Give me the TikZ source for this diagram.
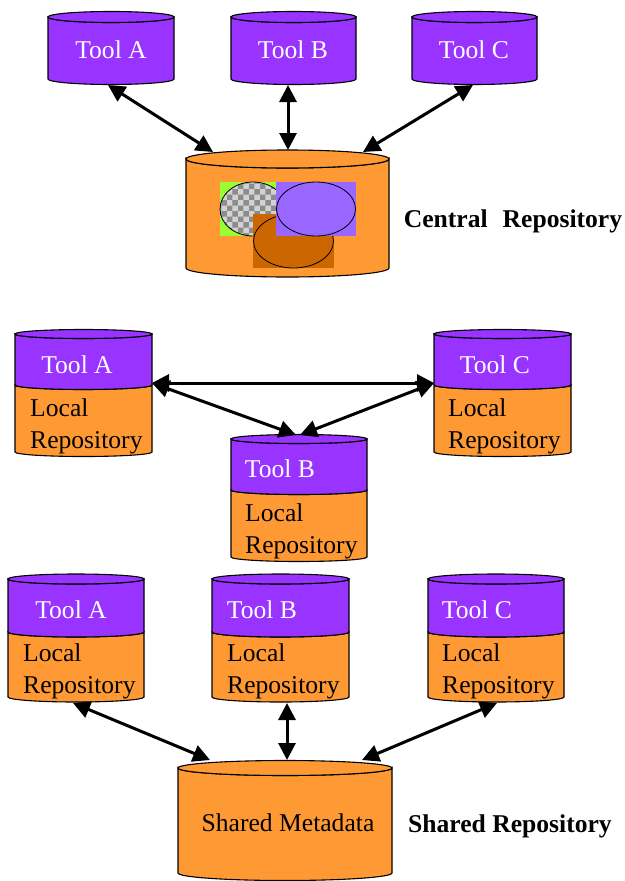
\documentclass[tikz,border=0pt]{standalone}
\usepackage{fontspec}
\setmainfont{Liberation Serif}
\usetikzlibrary{arrows.meta}
\usetikzlibrary{patterns}

\definecolor{toolpurple}{RGB}{153,51,255}
\definecolor{repoorange}{RGB}{255,153,51}
\definecolor{lilac}{RGB}{153,102,255}
\definecolor{rust}{RGB}{204,102,0}
\definecolor{lime}{RGB}{153,255,51}

\tikzset{
  tool/.style={fill=toolpurple,draw=black,line width=1.1pt},
  repo/.style={fill=repoorange,draw=black,line width=1.1pt},
  link/.style={{Triangle[length=17pt,width=17pt]}-{Triangle[length=17pt,width=17pt]},line width=3pt},
  tooltext/.style={text=white},
  localtext/.style={anchor=west,align=left,inner xsep=0pt},
  title/.style={font=\fontsize{25.6}{32}\selectfont\bfseries},
}

% plain cylinder: x left, x right, y top, y bottom, y radius, style
\newcommand{\cylshape}[6]{%
  \pgfmathsetmacro{\rx}{(#2-#1)/2}
  \filldraw[#6] (#1,#3) -- (#1,#4) arc[start angle=180,end angle=360,x radius=\rx,y radius=#5]
    -- (#2,#3) arc[start angle=0,end angle=-180,x radius=\rx,y radius=#5] -- cycle;
  \filldraw[#6] ({(#1+#2)/2},#3) ellipse[x radius=\rx,y radius=#5];
}
% tool on top of a local repository: x left, x right, y top, y split, y bottom, y radius
\newcommand{\toolcyl}[6]{%
  \pgfmathsetmacro{\rx}{(#2-#1)/2}
  \filldraw[repo] (#1,#4) -- (#1,#5) arc[start angle=180,end angle=360,x radius=\rx,y radius=#6]
    -- (#2,#4) arc[start angle=0,end angle=-180,x radius=\rx,y radius=#6] -- cycle;
  \filldraw[tool] (#1,#3) -- (#1,#4) arc[start angle=180,end angle=360,x radius=\rx,y radius=#6]
    -- (#2,#3) arc[start angle=0,end angle=-180,x radius=\rx,y radius=#6] -- cycle;
  \filldraw[tool] ({(#1+#2)/2},#3) ellipse[x radius=\rx,y radius=#6];
}

\begin{document}
\begin{tikzpicture}[x=1pt,y=1pt,font=\fontsize{25.6}{32}\selectfont]
\useasboundingbox (0,0) rectangle (624,-881);

% central repository
\cylshape{48}{174}{-17}{-79}{5.5}{tool}
\cylshape{231}{356}{-17}{-79}{5.5}{tool}
\cylshape{412}{537}{-17}{-79}{5.5}{tool}
\cylshape{186}{389}{-159}{-268}{9}{repo}

\node[tooltext] (toolA1) at (111,-50) {Tool A};
\node[tooltext] (toolB1) at (293,-50) {Tool B};
\node[tooltext] (toolC1) at (474,-50) {Tool C};

\fill[lime] (220,-182) rectangle (277,-236);
\fill[gray!35] (253,-209) ellipse[x radius=33,y radius=27];
\fill[pattern=checkerboard,pattern color=gray!90] (253,-209) ellipse[x radius=33,y radius=27];
\draw[line width=0.8pt] (253,-209) ellipse[x radius=33,y radius=27];
\fill[rust] (253,-214) rectangle (334,-268);
\draw[line width=0.8pt] (293.5,-241) ellipse[x radius=40,y radius=27];
\fill[lilac] (276,-182) rectangle (356,-236);
\draw[line width=0.8pt] (316,-209) ellipse[x radius=39.5,y radius=27];

\node[title] (central) at (513,-221) {Central\hspace{15pt}Repository};

\coordinate (a1) at (108,-85);
\coordinate (b1) at (288,-85);
\coordinate (c1) at (473,-85);
\coordinate (ca) at (213,-152);
\coordinate (cb) at (288,-150);
\coordinate (cc) at (363,-152);
\draw[link] (a1) -- (ca);
\draw[link] (b1) -- (cb);
\draw[link] (c1) -- (cc);

% local repositories
\toolcyl{15}{152}{-334}{-385}{-452}{4.5}
\toolcyl{434}{571}{-334}{-385}{-452}{4.5}
\toolcyl{231}{367}{-439}{-490}{-557}{4.5}

\node[tooltext] (toolA2) at (77,-365) {Tool A};
\node[tooltext] (toolC2) at (495,-365) {Tool C};
\node[tooltext] (toolB2) at (280,-469) {Tool B};
\node[localtext] (localA2) at (30,-426) {Local\\Repository};
\node[localtext] (localC2) at (448,-426) {Local\\Repository};
\node[localtext] (localB2) at (245,-531) {Local\\Repository};

\coordinate (a2) at (152,-383);
\coordinate (c2) at (434,-383);
\coordinate (ba) at (296,-435);
\coordinate (bc) at (300,-435);
\draw[link] (a2) -- (c2);
\draw[link] (a2) -- (ba);
\draw[link] (c2) -- (bc);

% shared repository
\toolcyl{8}{144}{-579}{-632}{-697}{5}
\toolcyl{212}{349}{-579}{-632}{-697}{5}
\toolcyl{428}{564}{-579}{-632}{-697}{5}
\cylshape{178}{392}{-768}{-873}{7.5}{repo}

\node[tooltext] (toolA3) at (71,-610) {Tool A};
\node[tooltext] (toolB3) at (262,-610) {Tool B};
\node[tooltext] (toolC3) at (477,-610) {Tool C};
\node[localtext] (localA3) at (23,-671) {Local\\Repository};
\node[localtext] (localB3) at (227,-671) {Local\\Repository};
\node[localtext] (localC3) at (442,-671) {Local\\Repository};
\node (meta) at (288,-823) {Shared Metadata};
\node[title] (shared) at (510,-826) {Shared Repository};

\coordinate (a3) at (73,-703);
\coordinate (b3) at (287,-703);
\coordinate (c3) at (497,-703);
\coordinate (sa) at (210,-760);
\coordinate (sb) at (287,-760);
\coordinate (sc) at (362,-760);
\draw[link] (a3) -- (sa);
\draw[link] (b3) -- (sb);
\draw[link] (c3) -- (sc);
\end{tikzpicture}
\end{document}
